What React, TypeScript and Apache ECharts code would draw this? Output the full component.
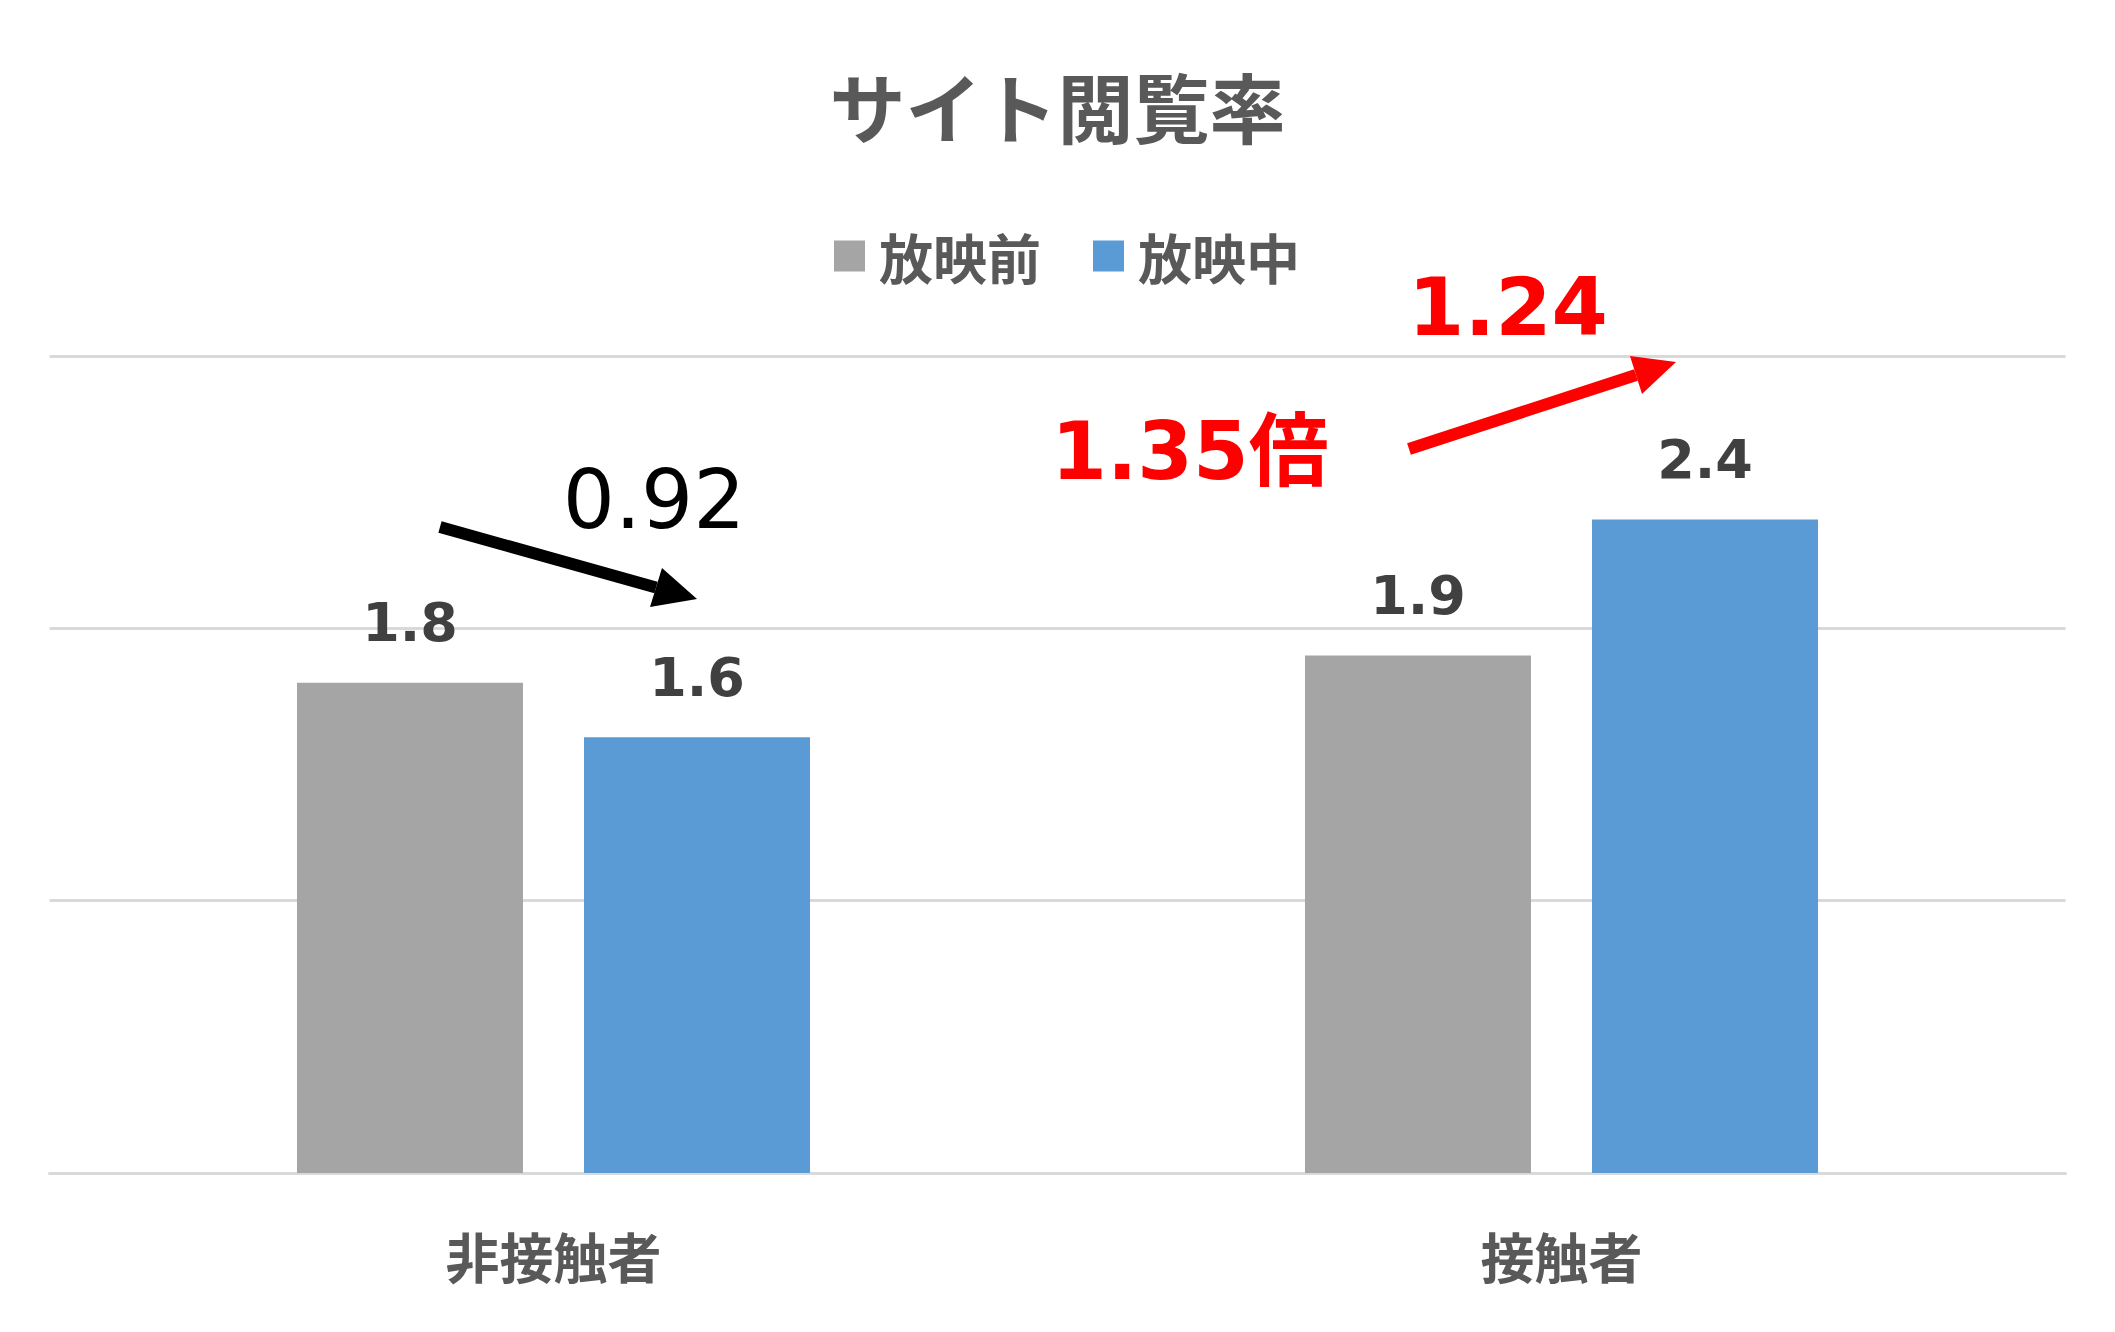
import React, { useEffect, useRef } from 'react';
import * as echarts from 'echarts';

const categories = ['非接触者', '接触者'];
const seriesNames = ['放映前', '放映中'];
const beforeValues = [1.8, 1.9];
const duringValues = [1.6, 2.4];
const yMin = 0;
const yMax = 3;
const yInterval = 1;
const ratioTexts = ['0.92', '1.24', '1.35倍'];
const titleText = 'サイト閲覧率';

const CJK = '"Noto Sans CJK JP", "Noto Sans CJK SC", sans-serif';
const LATIN = '"DejaVu Sans", "Noto Sans CJK JP", sans-serif';

export default function App() {
  const ref = useRef<HTMLDivElement>(null);
  useEffect(() => {
    document.body.style.margin = '0';
    const chart = echarts.init(ref.current as HTMLDivElement, null, { renderer: 'svg' });
    chart.setOption({
      animation: false,
      backgroundColor: '#ffffff',
      title: {
        text: titleText,
        left: 'center',
        top: 62,
        textStyle: { fontFamily: CJK, fontSize: 76, fontWeight: 'bold', color: '#595959' },
      },
      legend: {
        data: seriesNames,
        left: 829,
        top: 224,
        icon: 'rect',
        itemWidth: 31,
        itemHeight: 31,
        itemGap: 52,
        textStyle: {
          fontFamily: CJK,
          fontSize: 54,
          fontWeight: 'bold',
          color: '#595959',
          padding: [0, 0, 0, 9],
        },
      },
      grid: { left: 49.5, right: 49.5, top: 356, bottom: 159, containLabel: false },
      xAxis: {
        type: 'category',
        data: categories,
        axisLine: { show: true, lineStyle: { color: '#D9D9D9', width: 3 } },
        axisTick: { show: false },
        axisLabel: {
          margin: 55,
          fontFamily: CJK,
          fontSize: 54,
          fontWeight: 'bold',
          color: '#595959',
        },
      },
      yAxis: {
        type: 'value',
        min: yMin,
        max: yMax,
        interval: yInterval,
        axisLabel: { show: false },
        axisLine: { show: false },
        axisTick: { show: false },
        splitLine: { show: true, lineStyle: { color: '#D9D9D9', width: 3 } },
      },
      series: [
        {
          name: seriesNames[0],
          type: 'bar',
          data: beforeValues,
          barWidth: 226,
          barGap: '27%',
          itemStyle: { color: '#A5A5A5' },
          label: {
            show: true,
            position: 'top',
            distance: 33,
            fontFamily: LATIN,
            fontSize: 54,
            fontWeight: 'bold',
            color: '#404040',
          },
        },
        {
          name: seriesNames[1],
          type: 'bar',
          data: duringValues,
          barWidth: 226,
          barGap: '27%',
          itemStyle: { color: '#5B9BD5' },
          label: {
            show: true,
            position: 'top',
            distance: 33,
            fontFamily: LATIN,
            fontSize: 54,
            fontWeight: 'bold',
            color: '#404040',
          },
        },
      ],
      graphic: {
        elements: [
          {
            type: 'line',
            z: 100,
            shape: { x1: 440, y1: 527, x2: 656, y2: 587.5 },
            style: { stroke: '#000000', lineWidth: 12 },
          },
          {
            type: 'polygon',
            z: 100,
            shape: { points: [[697, 599], [662, 568], [650, 607]] },
            style: { fill: '#000000' },
          },
          {
            type: 'text',
            z: 100,
            x: 654,
            y: 499,
            style: {
              text: ratioTexts[0],
              fontFamily: LATIN,
              fontSize: 82,
              fontWeight: 'normal',
              fill: '#000000',
              align: 'center',
              verticalAlign: 'middle',
            },
          },
          {
            type: 'line',
            z: 100,
            shape: { x1: 1409, y1: 449, x2: 1636, y2: 375 },
            style: { stroke: '#FF0000', lineWidth: 12 },
          },
          {
            type: 'polygon',
            z: 100,
            shape: { points: [[1676, 362], [1630, 356], [1642, 394]] },
            style: { fill: '#FF0000' },
          },
          {
            type: 'text',
            z: 100,
            x: 1508,
            y: 307,
            style: {
              text: ratioTexts[1],
              fontFamily: LATIN,
              fontSize: 81,
              fontWeight: 'bold',
              fill: '#FF0000',
              align: 'center',
              verticalAlign: 'middle',
            },
          },
          {
            type: 'text',
            z: 100,
            x: 1190,
            y: 451,
            style: {
              text: ratioTexts[2],
              fontFamily: LATIN,
              fontSize: 80,
              fontWeight: 'bold',
              fill: '#FF0000',
              align: 'center',
              verticalAlign: 'middle',
            },
          },
        ],
      },
    });
    return () => chart.dispose();
  }, []);
  return <div ref={ref} style={{ width: 2115, height: 1332 }} />;
}
